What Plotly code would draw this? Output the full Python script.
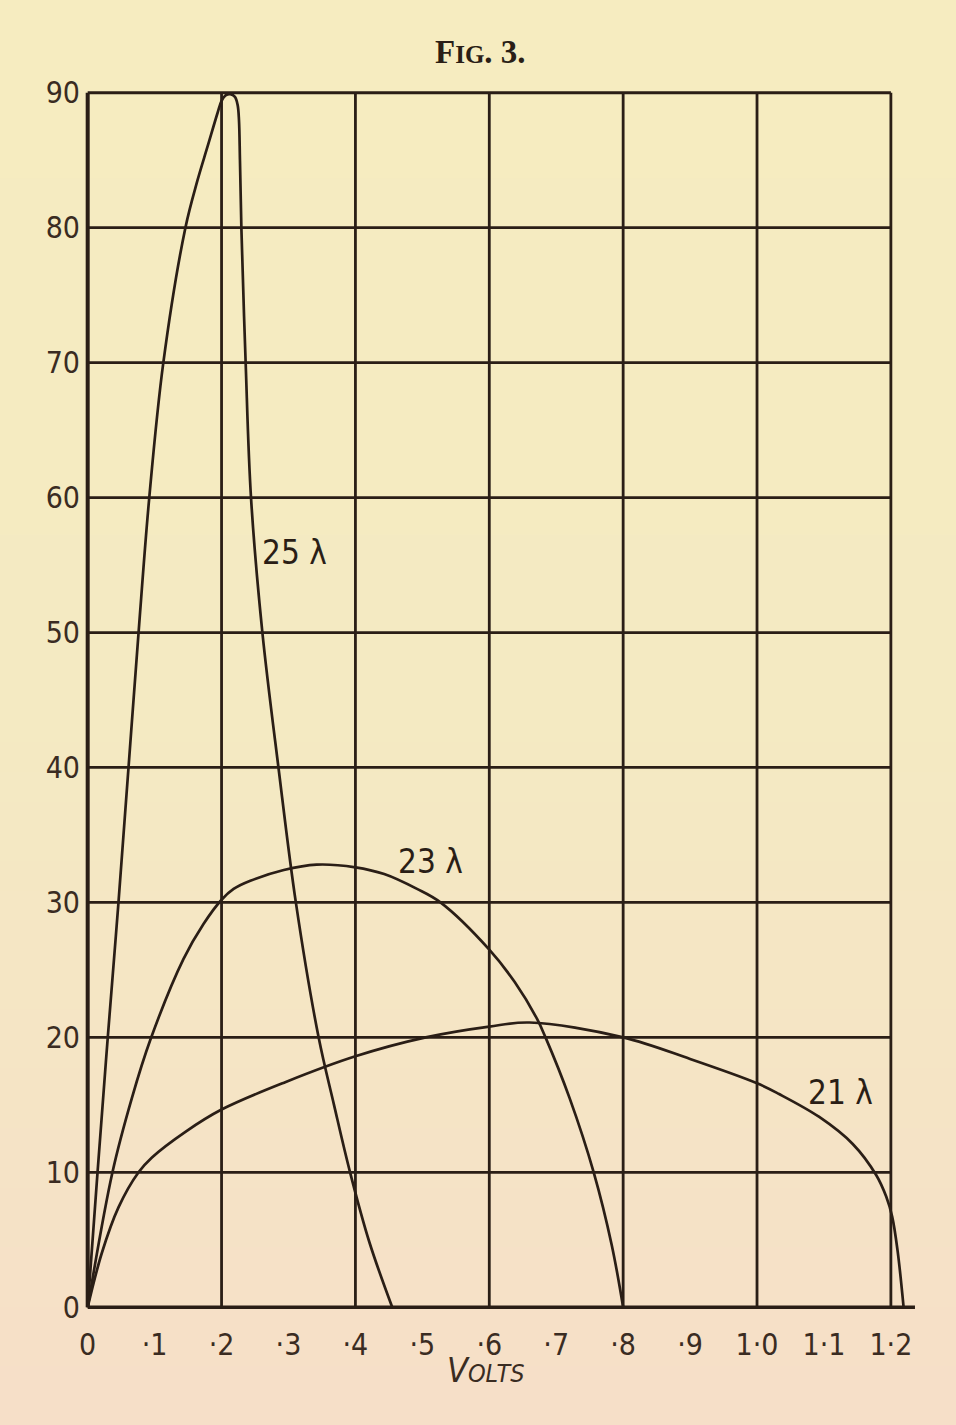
import plotly.graph_objects as go

# ---- data ----
volts_25 = [0, 0.0147, 0.030, 0.046, 0.061, 0.076, 0.092, 0.113, 0.146, 0.164, 0.179, 0.194,
            0.200, 0.206, 0.213, 0.220, 0.224, 0.226, 0.2275, 0.2296, 0.236, 0.244, 0.261,
            0.285, 0.311, 0.345, 0.368, 0.392, 0.421, 0.455]
resp_25 = [0, 10, 20, 30, 40, 50, 60, 70, 80, 83.5, 86, 88.5,
           89.4, 89.8, 89.9, 89.7, 89.1, 88.0, 85.0, 80, 70, 60, 50,
           40, 30, 20, 15, 10, 4.8, 0]

volts_23 = [0, 0.037, 0.066, 0.0935, 0.143, 0.173, 0.200, 0.218, 0.243, 0.293, 0.342, 0.400,
            0.443, 0.492, 0.527, 0.600, 0.638, 0.671, 0.684, 0.720, 0.756, 0.783, 0.800]
resp_23 = [0, 10, 15.5, 19.8, 25.8, 28.4, 30.2, 31.0, 31.6, 32.4, 32.8, 32.6,
           32.1, 31.0, 30.0, 26.5, 24.1, 21.4, 20.0, 15.5, 10, 4.6, 0]

volts_21 = [0, 0.021, 0.046, 0.076, 0.096, 0.146, 0.200, 0.296, 0.400, 0.505, 0.600, 0.660,
            0.800, 0.900, 1.000, 1.033, 1.093, 1.143, 1.178, 1.193, 1.202, 1.210, 1.219]
resp_21 = [0, 4.0, 7.4, 10, 11.1, 13.0, 14.65, 16.7, 18.6, 20.0, 20.8, 21.1,
           20.0, 18.4, 16.6, 15.8, 14.1, 12.1, 9.8, 8.2, 6.7, 4.2, 0]

curve_labels = ["25 λ", "23 λ", "21 λ"]
label_x = [0.309, 0.512, 1.125]
label_y = [55.9, 33.0, 15.9]

x_tickvals = [0, 0.1, 0.2, 0.3, 0.4, 0.5, 0.6, 0.7, 0.8, 0.9, 1.0, 1.1, 1.2]
x_ticktext = ["0", "·1", "·2", "·3", "·4", "·5", "·6", "·7", "·8", "·9", "1·0", "1·1", "1·2"]
y_tickvals = [0, 10, 20, 30, 40, 50, 60, 70, 80, 90]
x_grid = [0, 0.2, 0.4, 0.6, 0.8, 1.0, 1.2]
y_grid = [10, 20, 30, 40, 50, 60, 70, 80, 90]

INK = "#2a1e16"
TXT = "#3a2c22"
NARROW = "Liberation Sans Narrow, DejaVu Sans Condensed, Roboto, sans-serif"

W, H = 956, 1425
ML, MR, MT, MB = 81, 35, 86, 111
PW, PH = W - ML - MR, H - MT - MB


def py(pix):
    """paper y for a pixel row (from top of the figure)"""
    return (H - MB - pix) / PH


fig = go.Figure()
for xs, ys in [(volts_25, resp_25), (volts_23, resp_23), (volts_21, resp_21)]:
    fig.add_trace(go.Scatter(x=xs, y=ys, mode="lines",
                             line=dict(color=INK, width=2.7, shape="spline", smoothing=1.0),
                             showlegend=False, hoverinfo="skip"))

shapes = []
# paper background gradient (style only)
top = (246, 236, 192)
mid = (244, 234, 194)
bot = (246, 223, 200)
n = 48
y_lo = -MB / PH
y_hi = 1 + MT / PH
for i in range(n):
    t = i / (n - 1)  # 0 bottom -> 1 top
    if t < 0.5:
        a, b, u = bot, mid, t / 0.5
    else:
        a, b, u = mid, top, (t - 0.5) / 0.5
    c = tuple(round(a[k] + (b[k] - a[k]) * u) for k in range(3))
    y0 = y_lo + (y_hi - y_lo) * i / n
    y1 = y_lo + (y_hi - y_lo) * (i + 1) / n + 0.002
    shapes.append(dict(type="rect", xref="paper", yref="paper", x0=-ML / PW - 0.01, x1=1 + MR / PW + 0.01,
                       y0=y0, y1=y1, fillcolor="rgb(%d,%d,%d)" % c, line=dict(width=0),
                       layer="below"))

for gx in x_grid:
    shapes.append(dict(type="line", xref="x", yref="y", x0=gx, x1=gx, y0=0, y1=90,
                       line=dict(color=INK, width=4 if gx == 0 else 2.8), layer="below"))
for gy in y_grid:
    shapes.append(dict(type="line", xref="x", yref="y", x0=0, x1=1.2, y0=gy, y1=gy,
                       line=dict(color=INK, width=3.2 if gy == 90 else 2.8), layer="below"))
shapes.append(dict(type="line", xref="x", yref="y", x0=0, x1=1.236, y0=0, y1=0,
                   line=dict(color=INK, width=3.4), layer="below"))

annotations = []
for txt, lx, ly in zip(curve_labels, label_x, label_y):
    annotations.append(dict(x=lx, y=ly, xref="x", yref="y", text=txt, showarrow=False,
                            font=dict(family=NARROW, size=33, color=INK)))
annotations.append(dict(x=(480 - ML) / PW, y=py(52), xref="paper", yref="paper",
                        yanchor="middle", xanchor="center", showarrow=False,
                        text="<b>F<span style='font-size:25px'>IG</span>. 3.</b>",
                        font=dict(family="Liberation Serif, DejaVu Serif, serif", size=33, color=INK)))
annotations.append(dict(x=(485 - ML) / PW, y=py(1370), xref="paper", yref="paper",
                        yanchor="middle", xanchor="center", showarrow=False,
                        text="<i>V<span style='font-size:25px'>OLTS</span></i>",
                        font=dict(family=NARROW, size=34, color=TXT)))

fig.update_layout(
    width=W, height=H,
    margin=dict(l=ML, r=MR, t=MT, b=MB, pad=0),
    paper_bgcolor="rgb(245,232,196)", plot_bgcolor="rgba(0,0,0,0)",
    shapes=shapes, annotations=annotations,
    xaxis=dict(range=[-0.01, 1.245], showgrid=False, zeroline=False, showline=False,
               tickvals=x_tickvals, ticktext=x_ticktext, ticks="outside", ticklen=4,
               tickcolor="rgba(0,0,0,0)",
               tickfont=dict(family=NARROW, size=30, color=TXT)),
    yaxis=dict(range=[-0.5, 90.5], showgrid=False, zeroline=False, showline=False,
               tickvals=y_tickvals, ticks="", ticklen=0,
               tickfont=dict(family=NARROW, size=30, color=TXT)),
)

fig.write_html("out.html", config={"displayModeBar": False},
               post_script="document.body.style.margin='0px';document.body.style.background='rgb(245,232,196)';")
